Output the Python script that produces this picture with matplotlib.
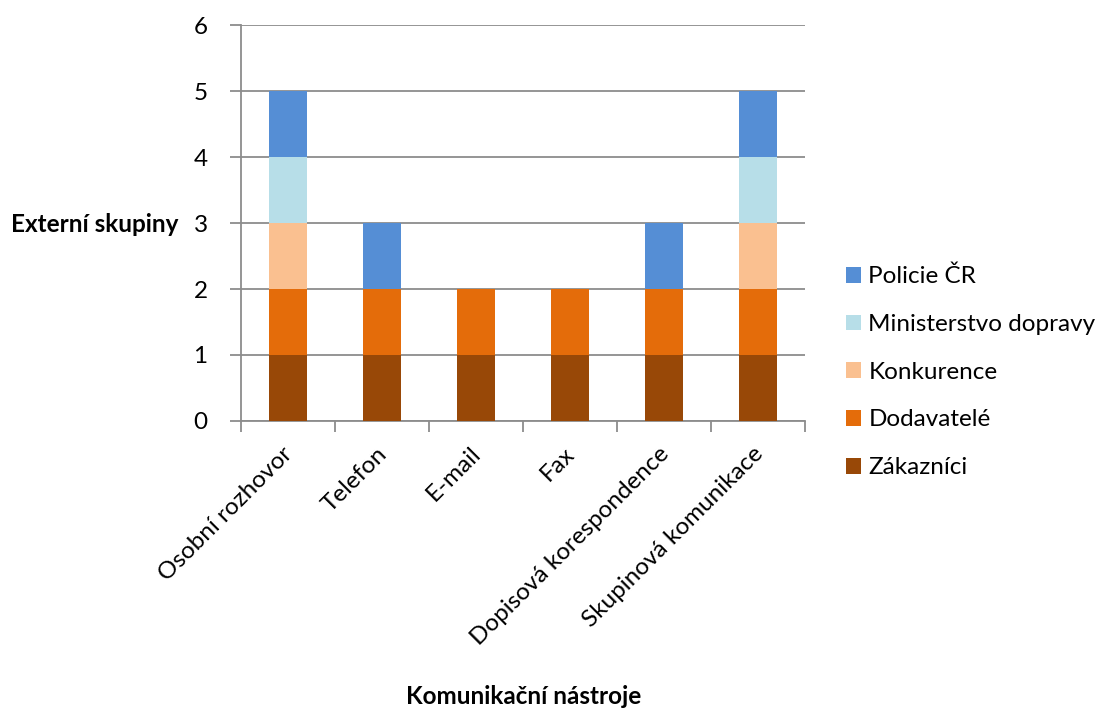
import matplotlib
matplotlib.use("Agg")
import matplotlib.pyplot as plt
import matplotlib.transforms as mtransforms
from matplotlib.patches import Patch
import numpy as np

plt.rcParams['font.family'] = ['Lato', 'DejaVu Sans']

categories = ["Osobní rozhovor", "Telefon", "E-mail", "Fax",
              "Dopisová korespondence", "Skupinová komunikace"]
series_names = ["Zákazníci", "Dodavatelé", "Konkurence",
                "Ministerstvo dopravy", "Policie ČR"]
zakaznici = [1, 1, 1, 1, 1, 1]
dodavatele = [1, 1, 1, 1, 1, 1]
konkurence = [1, 0, 0, 0, 0, 1]
ministerstvo = [1, 0, 0, 0, 0, 1]
policie = [1, 1, 0, 0, 1, 1]
series_values = [zakaznici, dodavatele, konkurence, ministerstvo, policie]
colors = ["#984807", "#E46C0A", "#FAC090", "#B7DEE8", "#558ED5"]
y_ticks = [0, 1, 2, 3, 4, 5, 6]

FS = 17.5
W, H = 1099, 711
fig = plt.figure(figsize=(W / 100, H / 100), dpi=100)
ax = fig.add_axes([241 / W, 1 - 421 / H, (805 - 241) / W, (421 - 25) / H])

x = np.arange(len(categories))
bottom = np.zeros(len(categories))
handles = []
for name, vals, col in zip(series_names, series_values, colors):
    vals = np.array(vals, dtype=float)
    ax.bar(x, vals, width=0.4, bottom=bottom, color=col, zorder=3,
           linewidth=0)
    bottom += vals
    handles.append(Patch(facecolor=col, label=name))

grid_col = "#8c8c8c"
ax.set_xlim(-0.5, len(categories) - 0.5)
ax.set_ylim(0, 6)
ax.set_yticks(y_ticks)
ax.set_yticklabels([str(t) for t in y_ticks], fontsize=FS)
ax.yaxis.grid(True, color=grid_col, linewidth=1.3, zorder=0)
ax.tick_params(axis='y', length=8, width=1.3, color=grid_col, pad=16)

# category boundary ticks on the x axis
ax.set_xticks(np.arange(len(categories) + 1) - 0.5, minor=True)
ax.set_xticks(x)
ax.tick_params(axis='x', which='major', length=0, pad=16)
ax.tick_params(axis='x', which='minor', length=8, width=1.3, color=grid_col)
ax.set_xticklabels(categories, rotation=45, ha='right',
                   rotation_mode='anchor', fontsize=FS)
shift = mtransforms.ScaledTranslation(-6 / 100, 0, fig.dpi_scale_trans)
for lbl in ax.get_xticklabels():
    lbl.set_transform(lbl.get_transform() + shift)

for s in ['top', 'right']:
    ax.spines[s].set_visible(False)
for s in ['left', 'bottom']:
    ax.spines[s].set_color(grid_col)
    ax.spines[s].set_linewidth(1.3)

fig.text(95 / W, 1 - 225 / H, "Externí skupiny", fontsize=FS,
         fontweight='bold', ha='center', va='center')
fig.text(524 / W, 1 - 697 / H, "Komunikační nástroje", fontsize=FS,
         fontweight='bold', ha='center', va='center')

fig.legend(handles=handles[::-1], loc='center left',
           bbox_to_anchor=(846 / W, 1 - 372 / H), frameon=False,
           fontsize=FS, handlelength=0.62, handleheight=0.62,
           handletextpad=0.3, labelspacing=1.1, borderpad=0,
           borderaxespad=0)

fig.savefig("out.png", dpi=100)
